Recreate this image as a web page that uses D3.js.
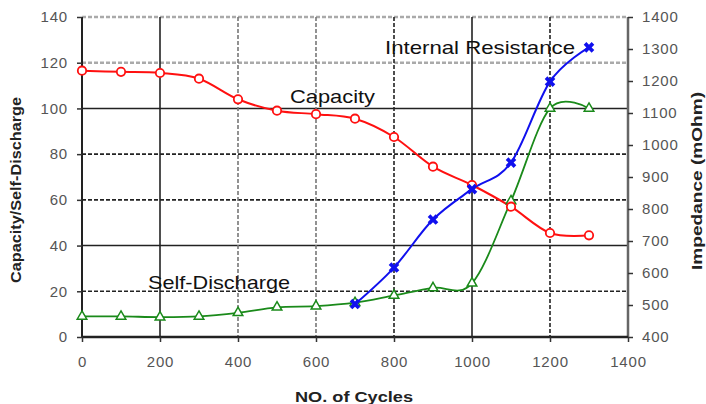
<!DOCTYPE html>
<html lang="en">
<head>
    <meta charset="UTF-8">
    <title>Battery Cycle Life</title>
    <style>
        body { margin: 0; background: #fff; }
        #chart text { font-family: "Liberation Sans", Arial, sans-serif; }
    </style>
</head>
<body>
    <script src="https://d3js.org/d3.v7.min.js"></script>
    <div id="chart"></div>
    <script>
        // data
        const cycles = [0, 100, 200, 300, 400, 500, 600, 700, 800, 900, 1000, 1100, 1200, 1300];
        const capacity = [116.5, 116, 115.5, 113, 104, 99, 97.5, 95.5, 87.5, 74.5, 66.5, 57, 45.5, 44.5];
        const selfDischarge = [9, 9, 8.7, 9, 10.6, 13, 13.5, 15, 18.2, 21.5, 23.5, 59.5, 100, 100];
        const resistCycles = [700, 800, 900, 1000, 1100, 1200, 1300];
        const resistance = [503, 617, 767, 862, 945, 1198, 1305];

        const xTicks = [0, 200, 400, 600, 800, 1000, 1200, 1400];
        const leftTicks = [0, 20, 40, 60, 80, 100, 120, 140];
        const rightTicks = [400, 500, 600, 700, 800, 900, 1000, 1100, 1200, 1300, 1400];

        const margin = { top: 17, right: 78, bottom: 67, left: 82 },
            width = 706 - margin.left - margin.right,
            height = 404 - margin.top - margin.bottom;

        const svg = d3.select("#chart")
            .append("svg")
            .attr("width", 706)
            .attr("height", 404)
            .append("g")
            .attr("transform", `translate(${margin.left},${margin.top})`);

        const x = d3.scaleLinear().domain([0, 1400]).range([0, width]);
        const y = d3.scaleLinear().domain([0, 140]).range([height, 0]);
        const y2 = d3.scaleLinear().domain([400, 1400]).range([height, 0]);

        // grid lines (the original is a blurry excel export, some solid some dashed)
        svg.append("g")
            .selectAll("line")
            .data(leftTicks.slice(1))
            .join("line")
            .attr("x1", 0).attr("x2", width)
            .attr("y1", d => y(d)).attr("y2", d => y(d))
            .attr("stroke", d => d >= 120 ? "#aaa" : "#222")
            .attr("stroke-width", d => d >= 120 ? 2.5 : 1.6)
            .attr("stroke-dasharray", d => (d == 40 || d == 100) ? null : "4,2");

        svg.append("g")
            .selectAll("line")
            .data(xTicks.slice(1, -1))
            .join("line")
            .attr("x1", d => x(d)).attr("x2", d => x(d))
            .attr("y1", 0).attr("y2", height)
            .attr("stroke", d => (d == 400 || d == 600) ? "#777" : "#222")
            .attr("stroke-width", 1.6)
            .attr("stroke-dasharray", d => (d == 200 || d == 1000) ? null : "4,2");

        // plot frame
        svg.append("line").attr("x1", 0).attr("x2", 0).attr("y1", 0).attr("y2", height)
            .attr("stroke", "#222").attr("stroke-width", 2);
        svg.append("line").attr("x1", width).attr("x2", width).attr("y1", 0).attr("y2", height)
            .attr("stroke", "#666").attr("stroke-width", 2.5);
        svg.append("line").attr("x1", 0).attr("x2", width).attr("y1", height).attr("y2", height)
            .attr("stroke", "#222").attr("stroke-width", 2.5);

        // axes
        const xAxis = svg.append("g")
            .attr("transform", `translate(0,${height})`)
            .call(d3.axisBottom(x).tickValues(xTicks).tickFormat(d3.format("d")).tickSize(5).tickPadding(14));
        const yAxis = svg.append("g")
            .call(d3.axisLeft(y).tickValues(leftTicks).tickFormat(d3.format("d")).tickSize(5).tickPadding(9));
        const y2Axis = svg.append("g")
            .attr("transform", `translate(${width},0)`)
            .call(d3.axisRight(y2).tickValues(rightTicks).tickFormat(d3.format("d")).tickSize(5).tickPadding(9));

        [xAxis, yAxis, y2Axis].forEach(function (a) {
            a.select(".domain").remove();
            a.selectAll(".tick line").attr("stroke", "#333").attr("stroke-width", 1.5);
            a.selectAll("text")
                .style("font-size", "15px")
                .style("letter-spacing", "0.8px")
                .attr("fill", "#555");
        });

        // axis titles
        function title(t, tf, len) {
            svg.append("text")
                .attr("transform", tf)
                .attr("text-anchor", "middle")
                .attr("textLength", len)
                .attr("lengthAdjust", "spacingAndGlyphs")
                .style("font-size", "14px")
                .style("font-weight", "bold")
                .attr("fill", "#222")
                .text(t);
        }
        title("NO. of Cycles", `translate(${width / 2 - 1},${height + 65})`, 118);
        title("Capacity/Self-Discharge", `translate(-61,${height / 2 + 13}) rotate(-90)`, 186);
        title("Impedance (mOhm)", `translate(${width + 74},${height / 2 + 4}) rotate(-90)`, 178);

        // lines
        const capData = cycles.map((c, i) => ({ x: c, v: capacity[i] }));
        const sdData = cycles.map((c, i) => ({ x: c, v: selfDischarge[i] }));
        const irData = resistCycles.map((c, i) => ({ x: c, v: resistance[i] }));

        const lineLeft = d3.line().x(d => x(d.x)).y(d => y(d.v)).curve(d3.curveCardinal.tension(0));
        const lineRight = d3.line().x(d => x(d.x)).y(d => y2(d.v)).curve(d3.curveCardinal.tension(0));

        svg.append("path").datum(sdData)
            .attr("fill", "none").attr("stroke", "#1a8a1a").attr("stroke-width", 1.8)
            .attr("d", lineLeft);
        svg.append("path").datum(irData)
            .attr("fill", "none").attr("stroke", "#1010ee").attr("stroke-width", 2)
            .attr("d", lineRight);
        svg.append("path").datum(capData)
            .attr("fill", "none").attr("stroke", "#ff1010").attr("stroke-width", 2)
            .attr("d", lineLeft);

        // markers
        svg.append("g")
            .selectAll("path")
            .data(sdData)
            .join("path")
            .attr("transform", d => `translate(${x(d.x)},${y(d.v)})`)
            .attr("d", d3.symbol(d3.symbolTriangle, 40))
            .attr("fill", "#fff").attr("stroke", "#1a8a1a").attr("stroke-width", 1.5);

        svg.append("g")
            .selectAll("circle")
            .data(capData)
            .join("circle")
            .attr("cx", d => x(d.x))
            .attr("cy", d => y(d.v))
            .attr("r", 4.2)
            .attr("fill", "#fff").attr("stroke", "#ff1010").attr("stroke-width", 1.8);

        svg.append("g")
            .selectAll("path")
            .data(irData)
            .join("path")
            .attr("transform", d => `translate(${x(d.x)},${y2(d.v)}) rotate(45)`)
            .attr("d", d3.symbol(d3.symbolCross, 70))
            .attr("fill", "#1010ee");

        // series labels
        const labels = [
            { text: "Internal Resistance", x: 385, y: 54, w: 190 },
            { text: "Capacity", x: 290, y: 103, w: 85 },
            { text: "Self-Discharge", x: 148, y: 289, w: 142 }
        ];
        d3.select("svg").append("g")
            .selectAll("text")
            .data(labels)
            .join("text")
            .attr("x", d => d.x)
            .attr("y", d => d.y)
            .attr("textLength", d => d.w)
            .attr("lengthAdjust", "spacingAndGlyphs")
            .style("font-size", "19px")
            .attr("fill", "#111")
            .text(d => d.text);
    </script>
</body>
</html>
